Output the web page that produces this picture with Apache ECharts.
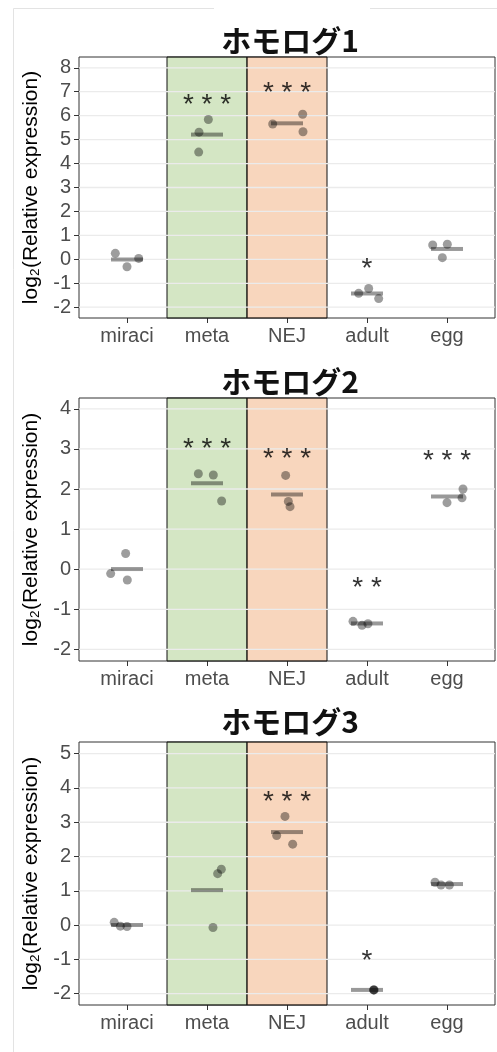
<!DOCTYPE html>
<html>
<head>
<meta charset="utf-8">
<script src="https://cdn.jsdelivr.net/npm/echarts@6/dist/echarts.min.js"></script>
<style>
html,body{margin:0;padding:0;background:#fff;}
#chart{width:497px;height:1052px;}
</style>
</head>
<body>
<div id="chart"></div>
<script>
// ---- data ----
const categories = ['miraci', 'meta', 'NEJ', 'adult', 'egg'];
const titles = ['ホモログ1', 'ホモログ2', 'ホモログ3'];
const yLabel = 'log₂(Relative expression)';

// replicate values (log2 relative expression), per category
const h1Values = [[0.25, -0.31, 0.04], [5.84, 5.31, 4.48], [6.06, 5.65, 5.33], [-1.42, -1.22, -1.64], [0.60, 0.63, 0.07]];
const h2Values = [[0.39, -0.11, -0.27], [2.38, 2.35, 1.70], [2.34, 1.69, 1.56], [-1.30, -1.40, -1.36], [2.00, 1.78, 1.66]];
const h3Values = [[0.08, -0.03, -0.04], [1.63, 1.50, -0.07], [3.17, 2.61, 2.36], [-1.89, -1.89, -1.89], [1.25, 1.17, 1.17]];

// horizontal jitter of each replicate (category units)
const h1Jitter = [[-0.146, 0, 0.146], [0.017, -0.10, -0.104], [0.196, -0.179, 0.20], [-0.104, 0.021, 0.146], [-0.179, 0.004, -0.058]];
const h2Jitter = [[-0.017, -0.204, 0.004], [-0.108, 0.079, 0.183], [-0.017, 0.017, 0.038], [-0.175, -0.062, 0.012], [0.20, 0.188, 0]];
const h3Jitter = [[-0.16, -0.083, 0], [0.179, 0.133, 0.075], [-0.025, -0.129, 0.071], [0.083, 0.083, 0.09], [-0.15, -0.075, 0.03]];

// significance marks: [category index (1-based), text, y value]
const h1Stars = [[2, '* * *', 6.69], [3, '* * *', 7.20], [4, '*', -0.17]];
const h2Stars = [[2, '* * *', 3.13], [3, '* * *', 2.90], [4, '* *', -0.32], [5, '* * *', 2.84]];
const h3Stars = [[3, '* * *', 3.77], [4, '*', -0.87]];

// y axis ranges and ticks
const yMins = [-2.45, -2.29, -2.33];
const yMaxs = [8.45, 4.27, 5.34];
const h1Ticks = [-2, -1, 0, 1, 2, 3, 4, 5, 6, 7, 8];
const h2Ticks = [-2, -1, 0, 1, 2, 3, 4];
const h3Ticks = [-2, -1, 0, 1, 2, 3, 4, 5];
const xTicks = [1, 2, 3, 4, 5];

const panels = [
  { values: h1Values, jitter: h1Jitter, stars: h1Stars, ticks: h1Ticks },
  { values: h2Values, jitter: h2Jitter, stars: h2Stars, ticks: h2Ticks },
  { values: h3Values, jitter: h3Jitter, stars: h3Stars, ticks: h3Ticks }
];

// ---- layout ----
const gridBoxes = [
  { left: 79, top: 57, width: 416, height: 261 },
  { left: 79, top: 398, width: 416, height: 263 },
  { left: 79, top: 742, width: 416, height: 263 }
];
const titleTops = [21, 362, 702];
const FONT = "'Liberation Sans', Arial, sans-serif";
const TEXT_COLOR = '#4d4d4d';

const grids = [], xAxes = [], yAxes = [], series = [], titleList = [];

panels.forEach((p, i) => {
  grids.push(Object.assign({ show: true, borderColor: '#333', borderWidth: 1, backgroundColor: '#fff' }, gridBoxes[i]));
  titleList.push({
    text: titles[i], left: 285, top: titleTops[i], textAlign: 'center',
    textStyle: { fontFamily: "'Noto Sans CJK JP', sans-serif", fontSize: 30, fontWeight: 'bold', color: '#111' }
  });
  xAxes.push({
    type: 'value', gridIndex: i, min: 0.4, max: 5.6,
    axisLine: { show: false, onZero: false },
    splitLine: { show: false },
    axisTick: { show: true, customValues: xTicks, length: 5, lineStyle: { color: '#333' } },
    axisLabel: {
      customValues: xTicks, margin: 8, fontSize: 20, fontFamily: FONT, color: TEXT_COLOR,
      formatter: v => categories[Math.round(v) - 1] || ''
    }
  });
  yAxes.push({
    type: 'value', gridIndex: i, min: yMins[i], max: yMaxs[i],
    name: yLabel, nameLocation: 'middle', nameRotate: 90, nameGap: 37,
    nameTextStyle: { fontSize: 21, fontFamily: FONT, color: '#000' },
    axisLine: { show: false, onZero: false },
    splitLine: { show: false },
    axisTick: { show: true, customValues: p.ticks, length: 5, lineStyle: { color: '#333' } },
    axisLabel: { customValues: p.ticks, margin: 8, fontSize: 20, fontFamily: FONT, color: TEXT_COLOR }
  });

  // horizontal grid lines at the tick values
  series.push({
    type: 'custom', xAxisIndex: i, yAxisIndex: i, z: 1, silent: true, animation: false,
    data: p.ticks.map(t => [t]),
    encode: { y: 0 },
    renderItem: (params, api) => {
      const t = api.value(0);
      const a = api.coord([0.4, t]);
      const b = api.coord([5.6, t]);
      return {
        type: 'line',
        shape: { x1: a[0], y1: a[1], x2: b[0], y2: b[1] },
        style: { stroke: '#ebebeb', lineWidth: 1.3 }
      };
    }
  });

  // mean bars
  const means = p.values.map((arr, c) => [c + 1, arr.reduce((a, b) => a + b, 0) / arr.length]);
  series.push({
    type: 'custom', xAxisIndex: i, yAxisIndex: i, z: 3, silent: true, animation: false,
    data: means,
    renderItem: (params, api) => {
      const c = api.value(0), m = api.value(1);
      const a = api.coord([c - 0.2, m]);
      const b = api.coord([c + 0.2, m]);
      return {
        type: 'line',
        shape: { x1: a[0], y1: a[1], x2: b[0], y2: b[1] },
        style: { stroke: 'rgba(0,0,0,0.4)', lineWidth: 4, lineCap: 'butt' }
      };
    }
  });

  // replicate points
  const pts = [];
  p.values.forEach((arr, c) => arr.forEach((v, k) => pts.push([c + 1 + p.jitter[c][k], v])));
  series.push({
    type: 'scatter', xAxisIndex: i, yAxisIndex: i, z: 4, silent: true, animation: false,
    data: pts, symbolSize: 9,
    itemStyle: { color: 'rgba(0,0,0,0.48)' }
  });

  // significance asterisks
  series.push({
    type: 'scatter', xAxisIndex: i, yAxisIndex: i, z: 5, silent: true, animation: false,
    data: p.stars.map(s => ({ value: [s[0], s[2]], name: s[1] })),
    symbolSize: 0,
    label: {
      show: true, position: 'inside', formatter: d => d.name,
      fontFamily: FONT, fontSize: 28, color: '#000', offset: [0, 6]
    }
  });

  // highlighted stages drawn on top (semi-transparent)
  series.push({
    type: 'line', xAxisIndex: i, yAxisIndex: i, data: [], z: 10, silent: true,
    markArea: {
      silent: true, animation: false,
      data: [
        [{ xAxis: 1.5, yAxis: 'min', itemStyle: { color: 'rgba(159,199,124,0.45)', borderColor: '#111', borderWidth: 1 } },
         { xAxis: 2.5, yAxis: 'max' }],
        [{ xAxis: 2.5, yAxis: 'min', itemStyle: { color: 'rgba(239,164,108,0.45)', borderColor: '#111', borderWidth: 1 } },
         { xAxis: 3.5, yAxis: 'max' }]
      ]
    }
  });
});

const chart = echarts.init(document.getElementById('chart'), null, { renderer: 'canvas' });
chart.setOption({
  backgroundColor: '#fff',
  animation: false,
  title: titleList,
  grid: grids,
  xAxis: xAxes,
  yAxis: yAxes,
  series: series,
  graphic: [
    { type: 'line', silent: true, shape: { x1: 13.5, y1: 8.5, x2: 13.5, y2: 1052 }, style: { stroke: '#e3e3e3', lineWidth: 1 } },
    { type: 'line', silent: true, shape: { x1: 13.5, y1: 8.5, x2: 214, y2: 8.5 }, style: { stroke: '#e3e3e3', lineWidth: 1 } },
    { type: 'line', silent: true, shape: { x1: 370, y1: 8.5, x2: 497, y2: 8.5 }, style: { stroke: '#e3e3e3', lineWidth: 1 } }
  ]
});
</script>
</body>
</html>
